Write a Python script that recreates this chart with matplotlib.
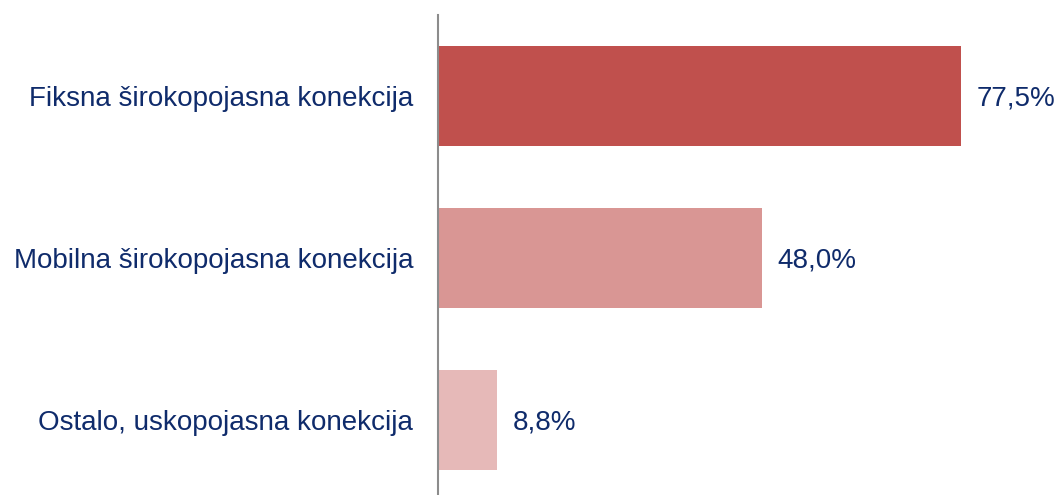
import matplotlib
matplotlib.use('Agg')
from matplotlib import pyplot as plt

categories = ['Fiksna širokopojasna konekcija',
              'Mobilna širokopojasna konekcija',
              'Ostalo, uskopojasna konekcija']
values = [77.5, 48.0, 8.8]
value_labels = ['77,5%', '48,0%', '8,8%']
colors = ['#C0504D', '#D99694', '#E6B9B8']

text_color = '#0F2B6B'
plt.rcParams['font.family'] = ['Liberation Sans', 'DejaVu Sans']

fig = plt.figure(figsize=(10.57, 4.95), dpi=100)
ax = fig.add_axes([438 / 1057, 0.0, 1 - 438 / 1057, 480 / 495])

pos = range(len(categories))
ax.barh(pos, values, height=0.62, color=colors)

for p, v, lab in zip(pos, values, value_labels):
    ax.text(v + 2.3, p, lab, va='center_baseline', ha='left', fontsize=20, color=text_color)

ax.set_xlim(0, (1057 - 438) / 6.75)
ax.set_ylim(2.463, -0.5)
ax.set_yticks(list(pos))
ax.set_yticklabels(categories, fontsize=20, color=text_color, va='center_baseline')
ax.tick_params(axis='y', length=0, pad=18)
ax.set_xticks([])

for s in ['top', 'right', 'bottom']:
    ax.spines[s].set_visible(False)
ax.spines['left'].set_color('#8C8C8C')
ax.spines['left'].set_linewidth(1.5)

fig.savefig('out.png', dpi=100)
